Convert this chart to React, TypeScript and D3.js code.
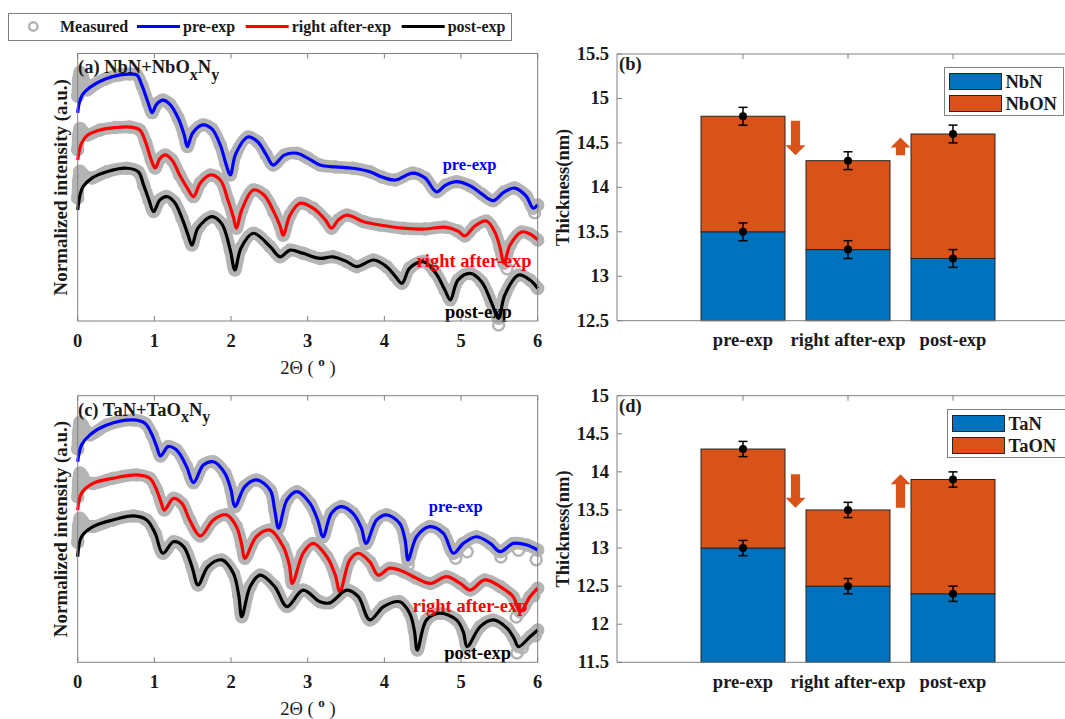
import { useEffect, useRef } from 'react';
import * as d3 from 'd3';

type Pt = [number, number];

// series names / colours shared by the two reflectivity panels
const seriesNames = ['pre-exp', 'right after-exp', 'post-exp'];
const seriesColors = ['#0000ff', '#ff0000', '#000000'];

// 2θ (deg) vs normalized intensity (a.u., curves offset for display)
const xTicks = [0, 1, 2, 3, 4, 5, 6];

// (a) NbN + NbOxNy : fitted curves
const aPre: Pt[] = [[0, 77.8], [0.02, 81.5], [0.06, 84.5], [0.12, 86.4], [0.23, 88.6], [0.36, 90.5], [0.55, 92.0], [0.68, 92.3], [0.77, 92.0], [0.84, 87.9], [0.92, 81.5], [0.97, 77.9], [1.03, 81.1], [1.11, 82.6], [1.20, 81.1], [1.31, 75.9], [1.39, 69.5], [1.43, 65.2], [1.50, 70.3], [1.63, 73.3], [1.75, 71.8], [1.86, 65.8], [1.93, 59.1], [1.99, 54.6], [2.06, 62.4], [2.22, 68.8], [2.35, 66.9], [2.46, 62.1], [2.55, 58.3], [2.70, 62.1], [2.86, 62.7], [3.00, 60.9], [3.16, 58.3], [3.36, 57.6], [3.59, 57.1], [3.81, 55.8], [3.97, 53.8], [4.14, 52.7], [4.37, 55.3], [4.53, 53.5], [4.68, 48.3], [4.80, 50.8], [4.94, 52.1], [5.12, 50.5], [5.27, 47.5], [5.42, 45.0], [5.56, 48.2], [5.70, 49.7], [5.85, 46.7], [5.94, 42.2], [6.00, 43.4]];
const aRight: Pt[] = [[0, 60.2], [0.05, 66.5], [0.13, 69.5], [0.29, 71.4], [0.49, 72.3], [0.68, 72.5], [0.81, 71.4], [0.89, 66.5], [0.96, 60.2], [1.01, 57.2], [1.07, 60.6], [1.14, 62.1], [1.23, 60.2], [1.33, 54.6], [1.43, 49.7], [1.51, 46.5], [1.60, 51.6], [1.73, 54.6], [1.86, 52.7], [1.96, 45.2], [2.03, 38.9], [2.07, 34.7], [2.14, 41.5], [2.29, 49.0], [2.43, 47.1], [2.56, 40.7], [2.64, 35.5], [2.68, 32.1], [2.77, 39.6], [2.90, 44.0], [3.07, 42.2], [3.23, 37.8], [3.31, 34.7], [3.40, 37.8], [3.51, 39.6], [3.73, 37.1], [3.94, 35.9], [4.25, 34.7], [4.53, 34.4], [4.79, 35.1], [4.96, 33.6], [5.05, 31.8], [5.18, 35.5], [5.33, 37.4], [5.44, 33.3], [5.51, 27.3], [5.56, 21.6], [5.64, 28.4], [5.79, 33.3], [5.90, 32.5], [6.00, 30.3]];
const aPost: Pt[] = [[0, 41.5], [0.03, 47.1], [0.07, 50.2], [0.19, 53.5], [0.38, 55.8], [0.64, 57.1], [0.79, 55.8], [0.86, 50.8], [0.93, 45.2], [0.99, 40.9], [1.07, 45.2], [1.16, 46.5], [1.26, 44.5], [1.36, 38.5], [1.44, 32.1], [1.49, 28.4], [1.57, 34.8], [1.75, 39.0], [1.88, 36.3], [1.99, 26.5], [2.05, 19.1], [2.13, 27.3], [2.29, 32.8], [2.51, 27.8], [2.64, 24.0], [2.77, 26.5], [2.94, 25.3], [3.16, 23.4], [3.33, 24.0], [3.51, 22.2], [3.64, 20.3], [3.86, 22.8], [4.03, 20.3], [4.14, 16.8], [4.23, 14.1], [4.33, 19.8], [4.51, 22.2], [4.66, 18.3], [4.79, 11.6], [4.86, 7.9], [4.96, 15.3], [5.12, 17.8], [5.27, 14.6], [5.40, 6.7], [5.49, 1.0], [5.57, 9.7], [5.75, 17.2], [5.90, 15.3], [6.00, 12.2]];
// measured points at the lowest angles (before they join the fit)
const aPreLead: Pt[] = [[0, 84], [0.01, 90], [0.03, 93], [0.06, 91.5], [0.10, 88.5]];
const aRightLead: Pt[] = [[0, 64], [0.01, 69], [0.03, 72], [0.06, 71], [0.10, 70]];
const aPostLead: Pt[] = [[0, 46], [0.01, 52], [0.03, 56], [0.06, 55], [0.10, 54]];
const aStray: Pt[] = [[5.49, -1.5], [5.96, 40.5], [5.6, 19.5]];

// (c) TaN + TaOxNy : fitted curves
const cPre: Pt[] = [[0, 75.2], [0.05, 81.5], [0.16, 85.3], [0.38, 89.0], [0.73, 90.9], [0.88, 89.6], [0.97, 85.3], [1.03, 80.9], [1.08, 77.4], [1.18, 80.9], [1.29, 79.6], [1.42, 73.4], [1.51, 67.4], [1.64, 74.0], [1.77, 75.2], [1.92, 70.9], [2.00, 64.6], [2.05, 58.4], [2.18, 65.9], [2.33, 68.4], [2.51, 64.6], [2.57, 57.1], [2.62, 50.3], [2.73, 60.9], [2.86, 64.0], [3.03, 59.6], [3.13, 53.4], [3.20, 47.1], [3.31, 55.9], [3.44, 58.4], [3.59, 55.9], [3.70, 50.4], [3.76, 44.6], [3.90, 53.4], [4.03, 55.3], [4.20, 52.1], [4.27, 45.9], [4.31, 38.4], [4.42, 47.1], [4.59, 50.9], [4.77, 48.4], [4.90, 40.9], [5.03, 44.6], [5.20, 47.1], [5.38, 44.6], [5.51, 41.5], [5.68, 44.6], [5.86, 44.0], [6.00, 42.1]];
const cRight: Pt[] = [[0, 57.1], [0.05, 63.4], [0.20, 67.1], [0.46, 69.0], [0.77, 70.3], [0.94, 69.0], [1.03, 64.6], [1.09, 59.8], [1.13, 57.1], [1.25, 61.5], [1.36, 59.6], [1.46, 53.4], [1.60, 47.4], [1.77, 53.4], [1.94, 55.3], [2.07, 50.9], [2.14, 44.0], [2.18, 39.0], [2.33, 47.1], [2.51, 49.6], [2.68, 43.4], [2.76, 36.5], [2.80, 29.6], [2.94, 40.9], [3.07, 44.6], [3.25, 39.6], [3.36, 32.7], [3.42, 26.5], [3.55, 38.4], [3.66, 40.9], [3.81, 37.7], [3.92, 32.7], [4.07, 35.3], [4.25, 34.0], [4.42, 31.5], [4.60, 29.6], [4.81, 32.1], [4.99, 29.6], [5.12, 27.1], [5.31, 30.9], [5.51, 28.4], [5.68, 24.6], [5.77, 19.0], [5.90, 24.6], [6.00, 27.8]];
const cPost: Pt[] = [[0, 39.6], [0.05, 47.1], [0.20, 50.9], [0.46, 53.4], [0.73, 54.9], [0.90, 53.4], [1.01, 48.4], [1.11, 40.9], [1.25, 45.2], [1.38, 43.4], [1.49, 35.9], [1.57, 29.0], [1.70, 35.9], [1.88, 38.4], [2.03, 33.4], [2.10, 25.2], [2.14, 17.1], [2.25, 28.4], [2.38, 32.7], [2.57, 28.4], [2.73, 20.9], [2.94, 27.1], [3.16, 22.7], [3.29, 22.3], [3.51, 27.1], [3.66, 24.6], [3.81, 15.9], [3.99, 20.9], [4.20, 22.7], [4.33, 18.4], [4.39, 12.1], [4.43, 4.6], [4.55, 15.9], [4.73, 18.4], [4.94, 15.9], [5.03, 11.4], [5.08, 5.9], [5.25, 13.4], [5.42, 15.9], [5.60, 12.8], [5.69, 9.1], [5.75, 5.9], [5.90, 9.6], [6.00, 12.1]];
const cPreLead: Pt[] = [[0, 80], [0.01, 86], [0.03, 90], [0.06, 89], [0.10, 87]];
const cRightLead: Pt[] = [[0, 62], [0.01, 68], [0.03, 71], [0.06, 70], [0.10, 68]];
const cPostLead: Pt[] = [[0, 45], [0.01, 51], [0.03, 54], [0.06, 53], [0.10, 51.5]];
const cStray: Pt[] = [[4.31, 36.5], [4.93, 39], [5.08, 41.5], [5.52, 39.5], [5.75, 42], [5.98, 38.5], [5.72, 17], [5.80, 20.5], [5.95, 25], [5.73, 3.5], [5.80, 5.5], [5.97, 10]];

// thickness bars (nm)
const stages = ['pre-exp', 'right after-exp', 'post-exp'];
const nbN = [13.5, 13.3, 13.2];
const nbON = [1.3, 1.0, 1.4];
const taN = [13.0, 12.5, 12.4];
const taON = [1.3, 1.0, 1.5];
const thicknessErr = 0.1;
const bTicks = [12.5, 13, 13.5, 14, 14.5, 15, 15.5];
const dTicks = [11.5, 12, 12.5, 13, 13.5, 14, 14.5, 15];
// trend arrows between stages: [x position, from, to]
const bArrows: [number, number, number][] = [[1.5, 14.75, 14.36], [2.5, 14.36, 14.56]];
const dArrows: [number, number, number][] = [[1.5, 13.97, 13.53], [2.5, 13.53, 13.97]];

const W = 1065;
const H = 719;
const FONT = '"Liberation Serif", "Times New Roman", serif';
const GRAY = '#b4b4b4';
const AXIS = '#808080';
const TXT = '#1a1a1a';
const BLUE = '#0072bd';
const ORANGE = '#d95319';

function drawXrr(svg: any, o: any) {
  const x = d3.scaleLinear().domain([0, 6]).range([77.7, 537.7]);
  const y = d3.scaleLinear().domain([0, 100]).range([o.bottom, o.top]);
  const line = d3.line<Pt>().x(d => x(d[0])).y(d => y(d[1])).curve(d3.curveCatmullRom.alpha(0.5));
  const g = svg.append('g');

  // measured data (grey rings)
  o.fits.forEach((fit: Pt[], i: number) => {
    const lead: Pt[] = o.leads[i];
    const last = lead[lead.length - 1][0];
    const meas = lead.concat(fit.filter(p => p[0] > last));
    g.append('path').attr('d', line(meas)).attr('fill', 'none')
      .attr('stroke', GRAY).attr('stroke-width', 12.5)
      .attr('stroke-linecap', 'round').attr('stroke-linejoin', 'round');
    g.selectAll(null).data(meas.concat(i === 0 ? o.stray : [])).enter().append('circle')
      .attr('cx', (d: Pt) => x(d[0])).attr('cy', (d: Pt) => y(d[1])).attr('r', 5.5)
      .attr('fill', 'none').attr('stroke', GRAY).attr('stroke-width', 2.5);
  });
  // fits
  o.fits.forEach((fit: Pt[], i: number) => {
    g.append('path').attr('d', line(fit)).attr('fill', 'none')
      .attr('stroke', seriesColors[i]).attr('stroke-width', 3.2);
  });
  // curve labels
  o.notes.forEach((n: any, i: number) => {
    g.append('text').attr('x', x(n[0])).attr('y', y(n[1]))
      .attr('font-size', i === 0 ? 16.5 : 18.5).attr('font-weight', 'bold')
      .attr('fill', seriesColors[i]).text(seriesNames[i]);
  });

  // box + ticks
  g.append('rect').attr('x', x(0)).attr('y', o.top).attr('width', x(6) - x(0))
    .attr('height', o.bottom - o.top).attr('fill', 'none').attr('stroke', AXIS);
  xTicks.forEach(t => {
    g.append('line').attr('x1', x(t)).attr('x2', x(t)).attr('y1', o.bottom).attr('y2', o.bottom - 5).attr('stroke', AXIS);
    g.append('line').attr('x1', x(t)).attr('x2', x(t)).attr('y1', o.top).attr('y2', o.top + 5).attr('stroke', AXIS);
    g.append('text').attr('x', x(t)).attr('y', o.bottom + 25.5).attr('text-anchor', 'middle')
      .attr('font-size', 18.5).attr('font-weight', 'bold').attr('fill', TXT).text(t);
  });
  const xl = g.append('text').attr('x', 308).attr('y', o.bottom + 53).attr('text-anchor', 'middle')
    .attr('font-size', 18.5).attr('fill', TXT);
  xl.append('tspan').text('2\u0398 ( ');
  xl.append('tspan').attr('font-size', 13).attr('font-weight', 'bold').attr('dy', -8).text('o');
  xl.append('tspan').attr('dy', 8).text(' )');
  g.append('text').attr('transform', `translate(67,${(o.top + o.bottom) / 2}) rotate(-90)`)
    .attr('text-anchor', 'middle').attr('font-size', 19).attr('font-weight', 'bold')
    .attr('fill', TXT).text('Normalized intensity (a.u.)');

  // panel title with subscripts
  const tt = g.append('text').attr('x', 78).attr('y', o.top + 19.8).attr('font-size', 18.5)
    .attr('font-weight', 'bold').attr('fill', TXT);
  tt.append('tspan').text(o.title[0]);
  tt.append('tspan').attr('font-size', 16).attr('dy', 6.5).text('x');
  tt.append('tspan').attr('dy', -6.5).text(o.title[1]);
  tt.append('tspan').attr('font-size', 16).attr('dy', 6.5).text('y');
}

function drawBars(svg: any, o: any) {
  const x = d3.scaleLinear().domain([-0.2, 4.2]).range([617, 1079]);
  const y = d3.scaleLinear().domain([o.ticks[0], o.ticks[o.ticks.length - 1]]).range([o.bottom, o.top]);
  const g = svg.append('g');
  const rows = stages.map((s, i) => ({ stage: s, pos: i + 1, base: o.base[i], oxide: o.oxide[i] }));
  const stacked = d3.stack<any>().keys(['base', 'oxide'])(rows);
  const bw = x(1.4) - x(0.6);
  const colors = [BLUE, ORANGE];
  const lo = y.domain()[0];

  stacked.forEach((layer: any, k: number) => {
    g.selectAll(null).data(layer).enter().append('rect')
      .attr('x', (d: any) => x(d.data.pos) - bw / 2)
      .attr('y', (d: any) => y(d[1]))
      .attr('width', bw)
      .attr('height', (d: any) => y(Math.max(d[0], lo)) - y(d[1]))
      .attr('fill', colors[k]).attr('stroke', '#262626').attr('stroke-width', 1);
  });
  // error bars at the top of each layer
  stacked.forEach((layer: any) => {
    layer.forEach((d: any) => {
      const cx = x(d.data.pos);
      const v = d[1];
      g.append('line').attr('x1', cx).attr('x2', cx).attr('y1', y(v - thicknessErr)).attr('y2', y(v + thicknessErr))
        .attr('stroke', '#000').attr('stroke-width', 1.5);
      [v - thicknessErr, v + thicknessErr].forEach(e => {
        g.append('line').attr('x1', cx - 4.5).attr('x2', cx + 4.5).attr('y1', y(e)).attr('y2', y(e))
          .attr('stroke', '#000').attr('stroke-width', 1.5);
      });
      g.append('circle').attr('cx', cx).attr('cy', y(v)).attr('r', 4).attr('fill', '#000');
    });
  });
  // trend arrows
  o.arrows.forEach((a: [number, number, number]) => {
    const cx = x(a[0]);
    const y1 = y(a[1]);
    const y2 = y(a[2]);
    const dir = y2 > y1 ? 1 : -1;
    const hl = 10;
    const hb = y2 - dir * hl;
    const sw = 4.6;
    const hw = 10;
    const pts = [[cx - sw, y1], [cx + sw, y1], [cx + sw, hb], [cx + hw, hb], [cx, y2], [cx - hw, hb], [cx - sw, hb]];
    g.append('polygon').attr('points', pts.map(p => p.join(',')).join(' ')).attr('fill', ORANGE);
  });

  // axes
  const left = x(-0.2);
  g.append('line').attr('x1', left).attr('x2', W).attr('y1', o.top).attr('y2', o.top).attr('stroke', AXIS);
  g.append('line').attr('x1', left).attr('x2', W).attr('y1', o.bottom).attr('y2', o.bottom).attr('stroke', AXIS);
  g.append('line').attr('x1', left).attr('x2', left).attr('y1', o.top).attr('y2', o.bottom).attr('stroke', AXIS);
  o.ticks.forEach((t: number) => {
    g.append('line').attr('x1', left).attr('x2', left + 5).attr('y1', y(t)).attr('y2', y(t)).attr('stroke', AXIS);
    g.append('text').attr('x', left - 8).attr('y', y(t) + 6).attr('text-anchor', 'end')
      .attr('font-size', 18.5).attr('font-weight', 'bold').attr('fill', TXT).text(t);
  });
  rows.forEach(r => {
    g.append('line').attr('x1', x(r.pos)).attr('x2', x(r.pos)).attr('y1', o.top).attr('y2', o.top + 5).attr('stroke', AXIS);
    g.append('text').attr('x', x(r.pos)).attr('y', o.bottom + 25.5).attr('text-anchor', 'middle')
      .attr('font-size', 18.5).attr('font-weight', 'bold').attr('fill', TXT).text(r.stage);
  });
  g.append('text').attr('transform', `translate(569,${(o.top + o.bottom) / 2}) rotate(-90)`)
    .attr('text-anchor', 'middle').attr('font-size', 18.5).attr('font-weight', 'bold')
    .attr('fill', TXT).text('Thickness(nm)');
  g.append('text').attr('x', left + 2).attr('y', o.top + 16).attr('font-size', 18.5)
    .attr('font-weight', 'bold').attr('fill', TXT).text(o.label);

  // legend
  const lg = g.append('g').attr('transform', `translate(${o.legend[0]},${o.legend[1]})`);
  lg.append('rect').attr('width', 119).attr('height', 48).attr('fill', '#fff').attr('stroke', AXIS);
  o.names.forEach((nm: string, k: number) => {
    lg.append('rect').attr('x', 5).attr('y', 6 + k * 22).attr('width', 52).attr('height', 16)
      .attr('fill', colors[k]).attr('stroke', '#262626');
    lg.append('text').attr('x', 61).attr('y', 20.5 + k * 22).attr('font-size', 18.5)
      .attr('font-weight', 'bold').attr('fill', TXT).text(nm);
  });
}

function drawLegend(svg: any) {
  const g = svg.append('g');
  g.append('rect').attr('x', 8.5).attr('y', 13.5).attr('width', 503).attr('height', 27)
    .attr('fill', '#fff').attr('stroke', AXIS);
  g.append('circle').attr('cx', 33.3).attr('cy', 26.5).attr('r', 4.2).attr('fill', '#fff')
    .attr('stroke', GRAY).attr('stroke-width', 2.5);
  g.append('text').attr('x', 60).attr('y', 32).attr('font-size', 16).attr('font-weight', 'bold')
    .attr('fill', TXT).text('Measured');
  const lx = [137, 245.7, 401.7];
  seriesNames.forEach((nm, i) => {
    g.append('line').attr('x1', lx[i]).attr('x2', lx[i] + 43).attr('y1', 26.5).attr('y2', 26.5)
      .attr('stroke', seriesColors[i]).attr('stroke-width', 3);
    g.append('text').attr('x', lx[i] + 46).attr('y', 32).attr('font-size', 16).attr('font-weight', 'bold')
      .attr('fill', TXT).text(nm);
  });
}

export default function App() {
  const svgRef = useRef<SVGSVGElement>(null);

  useEffect(() => {
    const svg = d3.select(svgRef.current);
    svg.selectAll('*').remove();
    svg.attr('font-family', FONT);
    svg.append('rect').attr('width', W).attr('height', H).attr('fill', '#fff');

    drawXrr(svg, {
      top: 53.5, bottom: 321,
      fits: [aPre, aRight, aPost], leads: [aPreLead, aRightLead, aPostLead], stray: aStray,
      notes: [[4.76, 56.4], [4.42, 20.3], [4.79, 1.1]],
      title: ['(a) NbN+NbO', 'N'],
    });
    drawXrr(svg, {
      top: 395.7, bottom: 662.3,
      fits: [cPre, cRight, cPost], leads: [cPreLead, cRightLead, cPostLead], stray: cStray,
      notes: [[4.58, 56.5], [4.37, 19.0], [4.78, 1.2]],
      title: ['(c) TaN+TaO', 'N'],
    });
    drawBars(svg, {
      top: 54, bottom: 320.7, ticks: bTicks, base: nbN, oxide: nbON,
      arrows: bArrows, label: '(b)', names: ['NbN', 'NbON'], legend: [944.5, 67.5],
    });
    drawBars(svg, {
      top: 395.7, bottom: 662.3, ticks: dTicks, base: taN, oxide: taON,
      arrows: dArrows, label: '(d)', names: ['TaN', 'TaON'], legend: [947.5, 409.5],
    });
    drawLegend(svg);
  }, []);

  return (
    <svg ref={svgRef} width={W} height={H}
      style={{ position: 'absolute', left: 0, top: 0, fontFamily: FONT }} />
  );
}
